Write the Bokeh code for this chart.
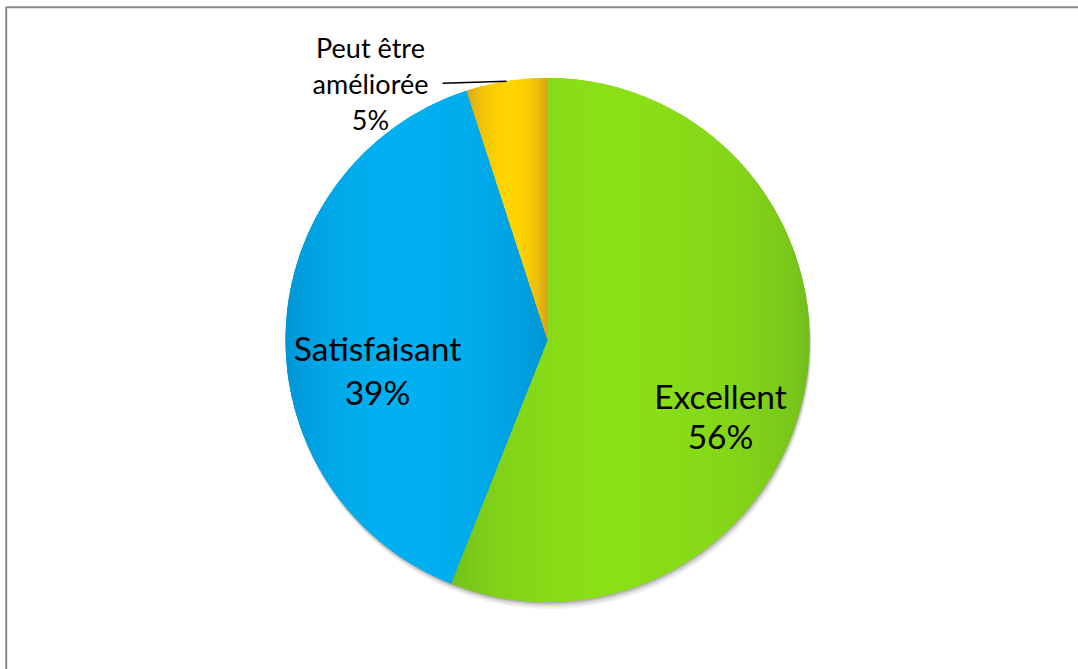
import numpy as np
from bokeh.plotting import figure
from bokeh.models import Range1d
from bokeh.core.properties import value
from bokeh.embed import file_html
from bokeh.resources import INLINE

# ---- data ----
categories = ["Excellent", "Satisfaisant", "Peut être améliorée"]
shares = [56, 39, 5]
pct_labels = ["56%", "39%", "5%"]

# ---- styles ----
dark_cols = [(114, 188, 30), (0, 146, 210), (208, 158, 28)]
light_cols = [(138, 223, 22), (0, 176, 240), (255, 212, 0)]
peaks = [0.45, 0.45, 0.55]

W, H = 1078, 669
CX, CY, R = 547.0, H - 339.5, 262.0
FONT = "Lato"

p = figure(width=W, height=H, x_range=Range1d(0, W), y_range=Range1d(0, H),
           output_backend="svg", toolbar_location=None, min_border=0,
           x_axis_type=None, y_axis_type=None)
p.grid.visible = False
p.outline_line_color = None
p.background_fill_color = "white"
p.border_fill_color = "white"

# frame lines (decoration)
p.line(x=[5.7, 5.7, W + 5], y=[-5, H - 6.7, H - 6.7], line_color="#8a8a8a", line_width=2)

# soft shadow
for k, a in [(7, 0.05), (5, 0.07), (3, 0.10), (1.5, 0.12)]:
    p.circle(x=[CX + k * 0.3], y=[CY - k], radius=R, fill_color="#000000",
             fill_alpha=a, line_color=None)

total = float(sum(shares))
cum = np.concatenate([[0], np.cumsum(shares)]) / total
start_ang = np.pi / 2 - 2 * np.pi * cum[:-1]
end_ang = np.pi / 2 - 2 * np.pi * cum[1:]

def hexc(c):
    return "#%02x%02x%02x" % tuple(int(round(v)) for v in c)

mid_cols = [hexc([(d + l) / 2 for d, l in zip(dc, lc)]) for dc, lc in zip(dark_cols, light_cols)]

# base wedges
p.wedge(x=CX, y=CY, radius=R, start_angle=list(start_ang), end_angle=list(end_ang),
        direction="clock", fill_color=mid_cols, line_color=None)

def clip_x(pts, x0, keep_greater):
    out = []
    n = len(pts)
    for i in range(n):
        P = pts[i]
        Q = pts[(i + 1) % n]
        pin = P[0] >= x0 if keep_greater else P[0] <= x0
        qin = Q[0] >= x0 if keep_greater else Q[0] <= x0
        if pin:
            out.append(P)
        if pin != qin:
            t = (x0 - P[0]) / (Q[0] - P[0])
            out.append((x0, P[1] + t * (Q[1] - P[1])))
    return out

xs_all, ys_all, cs_all = [], [], []
for i in range(len(shares)):
    a = np.linspace(start_ang[i], end_ang[i], 600)
    poly = [(CX, CY)] + [(CX + R * np.cos(t), CY + R * np.sin(t)) for t in a]
    px = [q[0] for q in poly]
    xmin, xmax = min(px), max(px)
    step = 1.5
    x0 = xmin
    while x0 < xmax:
        x1 = min(x0 + step + 0.8, xmax)
        piece = clip_x(clip_x(poly, x0, True), x1, False)
        if len(piece) >= 3:
            t = ((x0 + x1) / 2 - xmin) / (xmax - xmin)
            pk = peaks[i]
            u = (t - pk) / (pk if t < pk else (1 - pk))
            s = max(0.0, 1 - abs(u) ** 2.0)
            s = s ** 0.7
            c = [d + (l - d) * s for d, l in zip(dark_cols[i], light_cols[i])]
            xs_all.append([q[0] for q in piece])
            ys_all.append([q[1] for q in piece])
            cs_all.append(hexc(c))
        x0 += step
p.patches(xs=xs_all, ys=ys_all, fill_color=cs_all, line_color=None)

# labels (layout positions)
label_pos = [(720, H - 395, 40), (377, H - 347, 44), (370, H - 83, 36)]
label_size = ["33.5px", "33.5px", "27px"]
for i, name in enumerate(categories):
    lines = name.rsplit(" ", 1) if len(name) > 15 else [name]
    lines = lines + [pct_labels[i]]
    x, ybase, lh = label_pos[i]
    n_name = len(lines) - 1
    ys = [ybase + (n_name - 1 - j) * lh for j in range(n_name)] + [ybase - lh]
    p.text(x=[x] * len(lines), y=ys, text=lines, text_font=value(FONT),
           text_font_size=label_size[i], text_align="center",
           text_baseline="alphabetic", text_color="black")

# leader line for the small slice
mid = (start_ang[2] + end_ang[2]) / 2
ex, ey = CX + R * np.cos(mid), CY + R * np.sin(mid)
p.line(x=[442, ex], y=[ey - 2, ey], line_color="black", line_width=1.5)

open("out.html", "w").write(file_html(p, INLINE))
